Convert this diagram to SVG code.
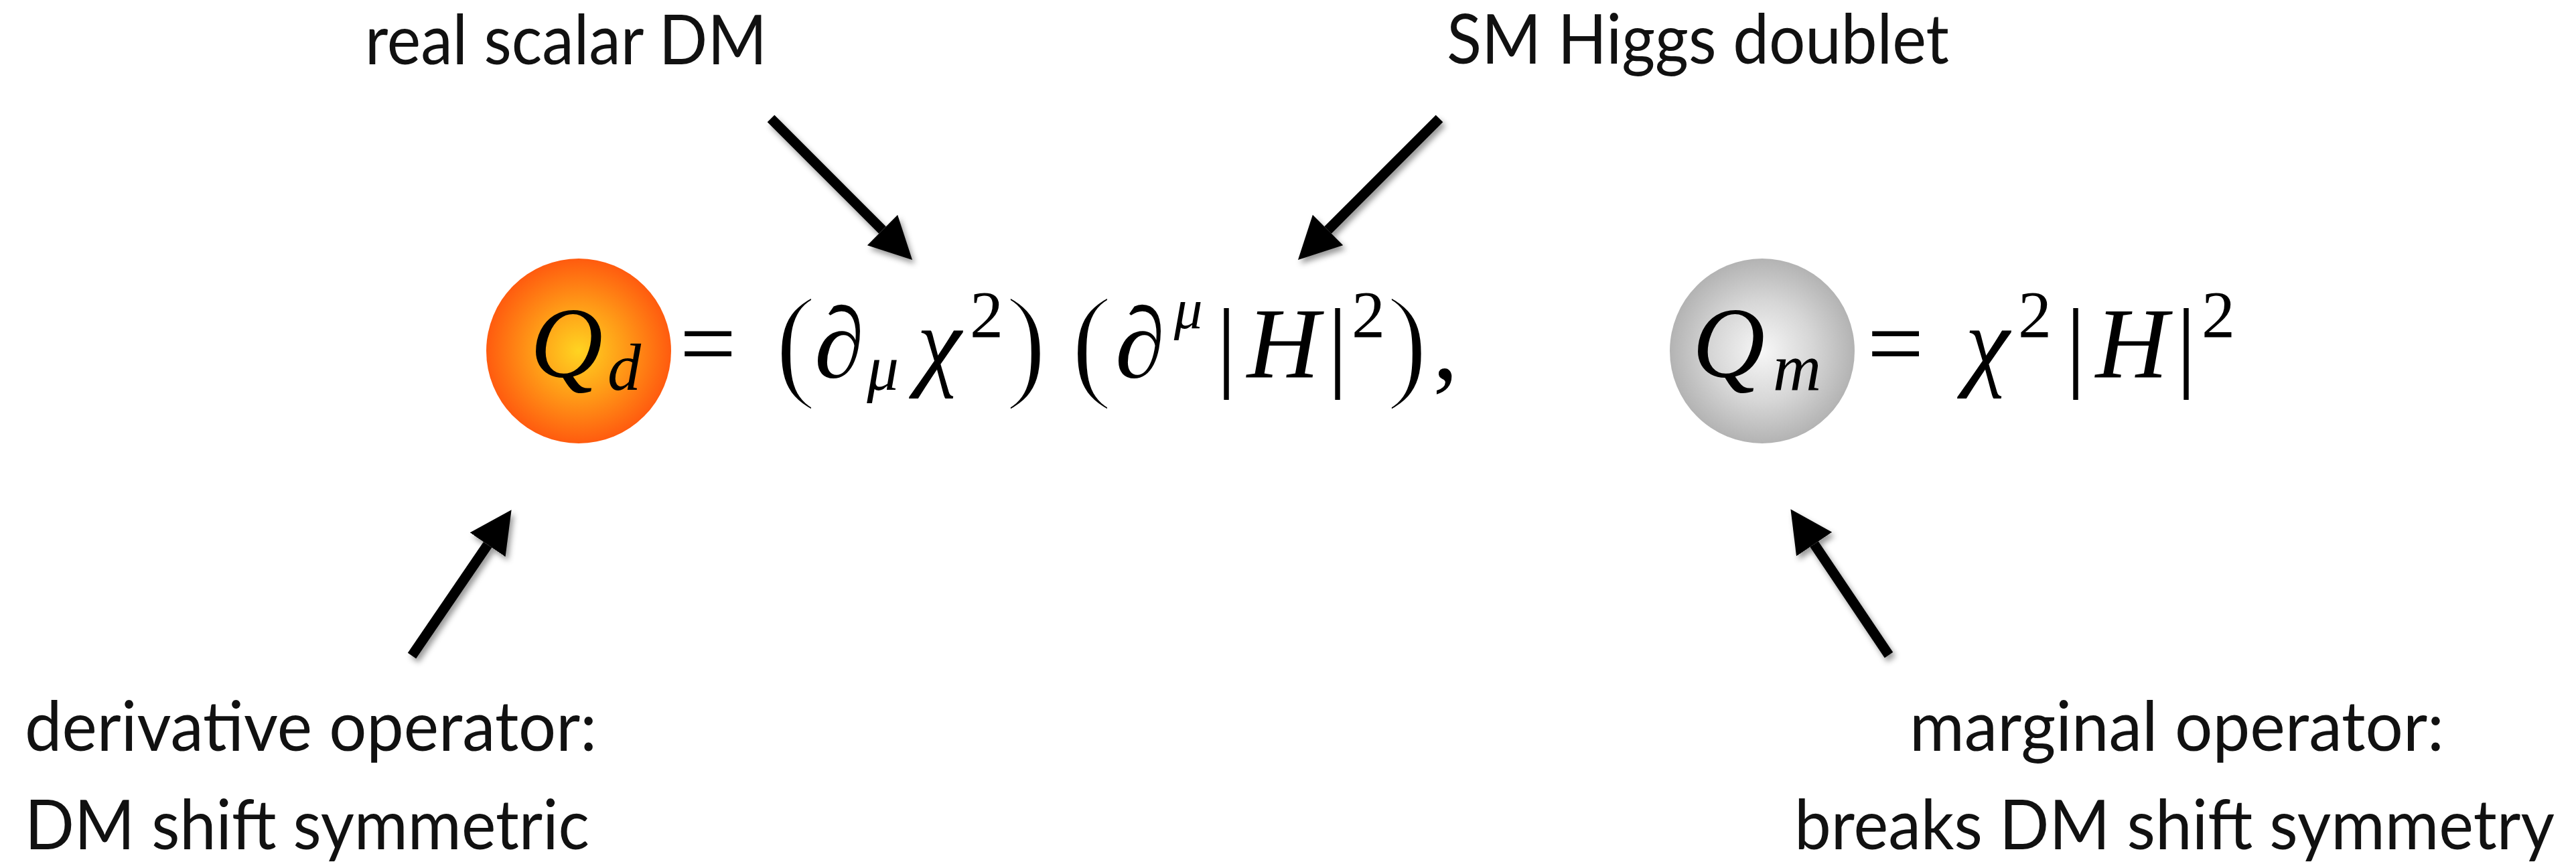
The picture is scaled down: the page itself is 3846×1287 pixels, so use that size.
<svg xmlns="http://www.w3.org/2000/svg" width="3846" height="1287" viewBox="0 0 3846 1287">
<defs>
<radialGradient id="gOrange" cx="0.5" cy="0.5" r="0.5">
<stop offset="0" stop-color="#FFD421"/>
<stop offset="0.5" stop-color="#FF9A17"/>
<stop offset="1" stop-color="#FF5B0F"/>
</radialGradient>
<radialGradient id="gGray" cx="0.5" cy="0.5" r="0.5">
<stop offset="0" stop-color="#F7F7F7"/>
<stop offset="0.55" stop-color="#D6D6D6"/>
<stop offset="1" stop-color="#B3B3B3"/>
</radialGradient>
<marker id="head" markerUnits="userSpaceOnUse" markerWidth="70" markerHeight="70" refX="0" refY="32" orient="auto">
<path d="M0,0 L63,32 L0,64 z" fill="#000"/>
</marker>
<filter id="shadow" x="-20%" y="-20%" width="140%" height="140%">
<feDropShadow dx="4" dy="6" stdDeviation="4" flood-color="#000" flood-opacity="0.4"/>
</filter>
</defs>
<style>
.lbl{font-family:Lato,"Open Sans","Liberation Sans",sans-serif;font-size:102px;fill:#111;}
.m{font-family:"Liberation Serif","DejaVu Serif",serif;fill:#000;}
.it{font-style:italic;}
.big{font-size:150px;}
.sub{font-size:100px;}
.par{font-size:190px;stroke:#fff;stroke-width:5px;paint-order:normal;}
.arrow{stroke:#000;stroke-width:15;fill:none;marker-end:url(#head);}
</style>
<rect width="3846" height="1287" fill="#fff"/>

<g id="connectors" filter="url(#shadow)">
<line class="arrow" x1="1151" y1="177" x2="1317.5" y2="343.5"/>
<line class="arrow" x1="2149" y1="177" x2="1982.5" y2="343.5"/>
<line class="arrow" x1="615" y1="979" x2="728.1" y2="813.2"/>
<line class="arrow" x1="2820" y1="978" x2="2708.6" y2="812.4"/>
</g>

<g id="label-real-scalar-dm"><text class="lbl" x="545" y="96" textLength="600" lengthAdjust="spacingAndGlyphs">real scalar DM</text></g>
<g id="label-sm-higgs"><text class="lbl" x="2160" y="95" textLength="750" lengthAdjust="spacingAndGlyphs">SM Higgs doublet</text></g>
<g id="label-derivative">
<text class="lbl" x="37" y="1121" textLength="854" lengthAdjust="spacingAndGlyphs">derivative operator:</text>
<text class="lbl" x="37" y="1268" textLength="843" lengthAdjust="spacingAndGlyphs">DM shift symmetric</text>
</g>
<g id="label-marginal">
<text class="lbl" x="2851" y="1121" textLength="798" lengthAdjust="spacingAndGlyphs">marginal operator:</text>
<text class="lbl" x="2679" y="1268" textLength="1135" lengthAdjust="spacingAndGlyphs">breaks DM shift symmetry</text>
</g>

<g id="node-Qd">
<circle cx="864" cy="524" r="138" fill="url(#gOrange)"/>
<text class="m it big" x="846" y="563" text-anchor="middle">Q</text>
<text class="m it sub" x="932" y="582" text-anchor="middle">d</text>
</g>

<g id="eq-Qd" text-anchor="middle">
<text class="m big" x="1057" y="563">=</text>
<text class="m par" x="1188" y="574">(</text>
<text class="m it big" x="1253" y="563">∂</text>
<text class="m it" font-size="95" x="1318" y="582">μ</text>
<text class="m it big" x="1402" y="563">χ</text>
<text class="m sub" x="1473" y="503">2</text>
<text class="m par" x="1532" y="574">)</text>
<text class="m par" x="1630" y="574">(</text>
<text class="m it big" x="1702" y="563">∂</text>
<text class="m it" font-size="85" x="1774" y="490">μ</text>
<text class="m big" x="1831" y="565">|</text>
<text class="m it big" x="1916" y="563">H</text>
<text class="m big" x="1997" y="565">|</text>
<text class="m sub" x="2043" y="503">2</text>
<text class="m par" x="2101" y="574">)</text>
<text class="m big" x="2158" y="566">,</text>
</g>

<g id="node-Qm">
<circle cx="2631" cy="524" r="138" fill="url(#gGray)"/>
<text class="m it big" x="2581" y="563" text-anchor="middle">Q</text>
<text class="m it sub" x="2683" y="582" text-anchor="middle">m</text>
</g>

<g id="eq-Qm" text-anchor="middle">
<text class="m big" x="2830" y="563">=</text>
<text class="m it big" x="2967" y="563">χ</text>
<text class="m sub" x="3038" y="503">2</text>
<text class="m big" x="3099" y="565">|</text>
<text class="m it big" x="3183" y="563">H</text>
<text class="m big" x="3264" y="565">|</text>
<text class="m sub" x="3312" y="503">2</text>
</g>
</svg>
